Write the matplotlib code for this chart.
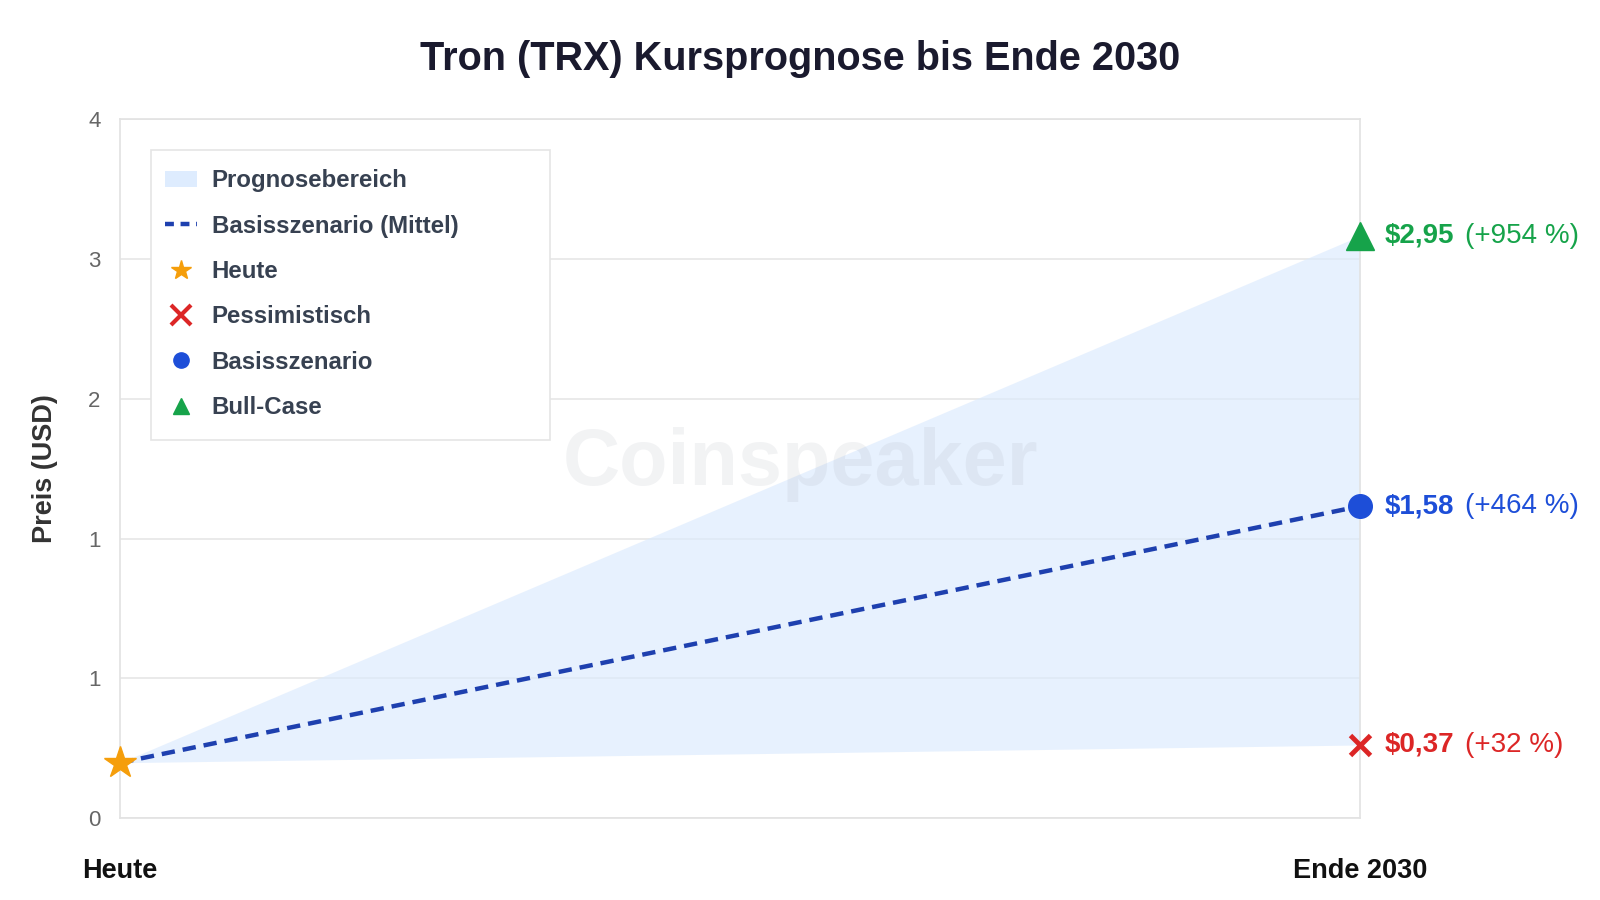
import numpy as np
import matplotlib
matplotlib.use("Agg")
import matplotlib.pyplot as plt
from matplotlib.patches import Patch, Rectangle
from matplotlib.lines import Line2D

plt.rcParams['font.family'] = ['Liberation Sans', 'DejaVu Sans']

# ---- data ----
x_labels = ["Heute", "Ende 2030"]
price_today = 0.28
scenario_names = ["Pessimistisch", "Basisszenario", "Bull-Case"]
scenario_prices = [0.37, 1.58, 2.95]
scenario_price_text = ["$0,37", "$1,58", "$2,95"]
scenario_pct_text = ["(+32 %)", "(+464 %)", "(+954 %)"]
y_max = 3.54
n_y_intervals = 5

# ---- styles ----
fill_color = '#dbeafe'
line_color = '#1e40af'
star_color = '#f59e0b'
colors = ['#dc2626', '#1d4ed8', '#16a34a']

fig = plt.figure(figsize=(16, 9), dpi=100)
ax = fig.add_axes([120/1600, 1-818/900, 1240/1600, (818-119.4)/900])

x0, x1 = 0, 1
pess, base, bull = scenario_prices

# forecast band
ax.fill_between([x0, x1], [price_today, pess], [price_today, bull],
                color=fill_color, alpha=0.65, linewidth=0, zorder=1)
# base line
ax.plot([x0, x1], [price_today, base], color=line_color, lw=3.2,
        dashes=(3, 1.8), zorder=3)
# today marker
ax.plot([x0], [price_today], marker='*', ms=24, color=star_color,
        mec=star_color, zorder=5, clip_on=False, ls='none')

# scenario markers
ax.plot([x1], [pess], marker='x', ms=15, mew=3.5, color=colors[0], zorder=5,
        clip_on=False, ls='none')
ax.plot([x1], [base], marker='o', ms=17, color=colors[1], zorder=5,
        clip_on=False, ls='none')
ax.plot([x1], [bull], marker='^', ms=20, color=colors[2], zorder=5,
        clip_on=False, ls='none')

# labels at right
for p, pt, pc, c in zip(scenario_prices, scenario_price_text, scenario_pct_text, colors):
    t1 = ax.annotate(pt, xy=(x1, p), xytext=(18, 0), textcoords='offset points',
                     ha='left', va='center', fontsize=20, fontweight='bold',
                     color=c, annotation_clip=False)
    ax.annotate(pc, xy=(1, 0.5), xycoords=t1, xytext=(7.5, 0),
                textcoords='offset points', ha='left', va='center',
                fontsize=20, color=c, annotation_clip=False)

# axes styling
ax.set_xlim(x0, x1)
ax.set_ylim(0, y_max)
yt = np.linspace(0, y_max, n_y_intervals + 1)
ax.set_yticks(yt)
ax.set_yticklabels([str(int(np.floor(v + 0.5 + 1e-9))) for v in yt])
ax.set_xticks([x0, x1])
ax.set_xticklabels(x_labels)
ax.tick_params(axis='y', length=0, pad=14, labelsize=16, labelcolor='#666666')
ax.tick_params(axis='x', length=0, pad=29, labelsize=19.5)
for lab in ax.get_xticklabels():
    lab.set_fontweight('bold')
    lab.set_color('#111111')
ax.yaxis.grid(True, color='#e6e6e6', lw=1.2, zorder=0)
ax.set_axisbelow(True)
for s in ax.spines.values():
    s.set_color('#e2e2e2')
    s.set_linewidth(1.2)

ax.set_ylabel("Preis (USD)", fontsize=19.5, fontweight='bold', color='#333333',
              labelpad=22)

fig.text(0.5, 1-59/900, "Tron (TRX) Kursprognose bis Ende 2030", ha='center',
         va='center', fontsize=28.5, fontweight='bold', color='#1a1a2e')

# watermark
ax.text(801/1600, 1-464/900, "Coinspeaker", transform=fig.transFigure,
        ha='center', va='center', fontsize=57, fontweight='bold',
        color='#9ca3af', alpha=0.13, zorder=4)

# legend frame (drawn separately to match the wider box)
frame = Rectangle((151/1600, 1-440/900), 399/1600, 290/900,
                  transform=fig.transFigure, facecolor='white',
                  edgecolor='#e5e5e5', lw=1.2, zorder=6)
fig.add_artist(frame)

handles = [
    Patch(facecolor=fill_color, alpha=0.9, edgecolor='none'),
    Line2D([0], [0], color=line_color, lw=3.2, dashes=(2, 1.5)),
    Line2D([0], [0], marker='*', color=star_color, ls='none', ms=15),
    Line2D([0], [0], marker='x', color=colors[0], ls='none', ms=14, mew=3),
    Line2D([0], [0], marker='o', color=colors[1], ls='none', ms=11),
    Line2D([0], [0], marker='^', color=colors[2], ls='none', ms=11),
]
labels = ["Prognosebereich", "Basisszenario (Mittel)", "Heute"] + scenario_names
leg = fig.legend(handles, labels, loc='upper left',
                 bbox_to_anchor=(151/1600, 1-155/900),
                 fontsize=17.3, frameon=False, borderpad=0.6,
                 labelspacing=0.93, handlelength=1.3, handletextpad=0.62,
                 borderaxespad=0)
leg.set_zorder(7)
for t in leg.get_texts():
    t.set_fontweight('bold')
    t.set_color('#374151')

fig.savefig("out.png", dpi=100, facecolor='white')
